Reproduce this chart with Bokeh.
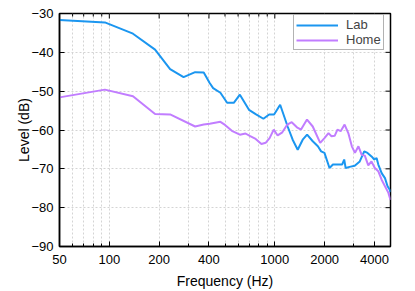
import math
from bokeh.plotting import figure
from bokeh.models import Range1d, FixedTicker, PrintfTickFormatter
from bokeh.embed import file_html
from bokeh.resources import INLINE

# ---- data ----
lab_freq = [50, 94, 139, 189, 233, 281, 330, 372, 404, 424, 469, 515, 565, 615, 698, 766,
            853, 924, 990, 1077, 1167, 1195, 1282, 1375, 1474, 1567, 1695, 1820, 1905, 1995,
            2140, 2245, 2410, 2550, 2625, 2680, 2830, 3040, 3260, 3470, 3630, 3840, 3990,
            4120, 4220, 4420, 4630, 4800, 4950, 5000]
lab_db = [-31.7, -32.3, -35.2, -39.3, -44.3, -46.4, -45.1, -45.2, -47.9, -49.2, -50.4, -53.0,
          -53.0, -50.9, -54.8, -55.9, -57.1, -56.0, -56.0, -53.5, -57.8, -59.1, -62.5, -65.1,
          -62.5, -61.2, -62.9, -64.2, -65.5, -65.9, -69.8, -68.9, -68.9, -68.9, -67.6, -69.8,
          -69.5, -69.2, -68.1, -65.5, -65.9, -66.8, -67.6, -67.2, -68.9, -71.1, -72.4, -74.5,
          -75.4, -76.0]

home_freq = [50, 94, 139, 189, 233, 330, 372, 404, 469, 500, 550, 615, 665, 710, 766, 830,
             880, 930, 985, 1040, 1110, 1190, 1265, 1360, 1440, 1565, 1695, 1880, 1995, 2110,
             2200, 2300, 2390, 2500, 2640, 2780, 2920, 3050, 3200, 3350, 3497, 3670, 3837,
             4021, 4216, 4420, 4632, 4857, 5000]
home_db = [-51.6, -49.6, -51.3, -55.9, -56.0, -59.1, -58.6, -58.4, -57.9, -58.7, -60.2, -61.2,
           -60.9, -61.6, -62.3, -63.6, -63.3, -62.1, -59.9, -61.4, -60.6, -58.6, -58.0, -59.3,
           -59.9, -57.3, -59.1, -63.3, -62.1, -60.8, -61.6, -61.5, -59.9, -60.3, -58.6, -60.8,
           -64.2, -65.9, -64.2, -66.4, -66.6, -69.1, -68.1, -69.8, -70.6, -72.8, -74.5, -76.2,
           -78.0]

x_major = [50, 100, 200, 400, 1000, 2000, 4000]
x_minor = [60, 70, 80, 90, 300, 500, 600, 700, 800, 900, 3000, 5000]
y_major = [-90, -80, -70, -60, -50, -40, -30]
x_lo, x_hi = 50, 5000
y_lo, y_hi = -90, -30

FONT = "Liberation Sans"
GRID = "#d4d4d4"

p = figure(width=407, height=282, x_axis_type="log",
           x_range=Range1d(x_lo, x_hi), y_range=Range1d(y_lo, y_hi),
           output_backend="svg", toolbar_location=None,
           min_border_left=59, min_border_right=17, min_border_top=13, min_border_bottom=36)
p.frame_width = 331
p.frame_height = 233

xt = FixedTicker(ticks=x_major, minor_ticks=x_minor)
yt = FixedTicker(ticks=y_major)

def style_axis(ax):
    ax.axis_line_color = "black"
    ax.axis_line_width = 1.5
    ax.major_tick_in = 5
    ax.major_tick_out = 0
    ax.minor_tick_in = 3
    ax.minor_tick_out = 0
    ax.major_tick_line_color = "black"
    ax.minor_tick_line_color = "black"
    ax.major_label_text_font = FONT
    ax.axis_label_text_font = FONT
    ax.axis_label_text_font_style = "normal"
    ax.axis_label_text_color = "black"
    ax.major_label_text_color = "black"
    ax.major_label_text_font_size = "13px"
    ax.axis_label_text_font_size = "14px"

xa = p.xaxis[0]
xa.ticker = xt
xa.formatter = PrintfTickFormatter(format="%d")
xa.axis_label = "Frequency (Hz)"
style_axis(xa)
xa.major_label_standoff = 8
xa.axis_label_standoff = 6

ya = p.yaxis[0]
ya.ticker = yt
ya.axis_label = "Level (dB)"
style_axis(ya)
ya.minor_tick_in = 0
ya.major_label_standoff = 6
ya.axis_label_standoff = -4

p.xgrid.ticker = xt
p.ygrid.ticker = yt
for g in (p.xgrid, p.ygrid):
    g.grid_line_color = GRID
    g.grid_line_dash = "2 2"
    g.grid_line_width = 1
p.xgrid.minor_grid_line_color = GRID
p.xgrid.minor_grid_line_dash = "2 2"

# mirrored inward ticks on the top and right edges (markers centred on the edge, clipped to the frame)
p.scatter(x_major, [y_hi] * len(x_major), marker="dash", angle=math.pi / 2, size=10,
          line_color="black", line_width=1)
p.scatter(x_minor, [y_hi] * len(x_minor), marker="dash", angle=math.pi / 2, size=6,
          line_color="black", line_width=1)
p.scatter([x_hi] * len(y_major), y_major, marker="dash", size=10,
          line_color="black", line_width=1)

p.outline_line_color = "black"
p.outline_line_width = 1.5
p.background_fill_color = "white"
p.border_fill_color = "white"

p.line(lab_freq, lab_db, line_color="#1b96f0", line_width=2, legend_label="Lab")
p.line(home_freq, home_db, line_color="#c17dff", line_width=2, legend_label="Home")

lg = p.legend[0]
lg.location = (234, 196)
lg.margin = 0
lg.padding = 2
lg.spacing = 0
lg.glyph_width = 42
lg.glyph_height = 12
lg.label_height = 12
lg.label_standoff = 8
lg.label_text_font = FONT
lg.label_text_font_size = "13px"
lg.border_line_color = "#666666"
lg.border_line_width = 1.5
lg.background_fill_alpha = 1

open("out.html", "w").write(file_html(p, INLINE))
